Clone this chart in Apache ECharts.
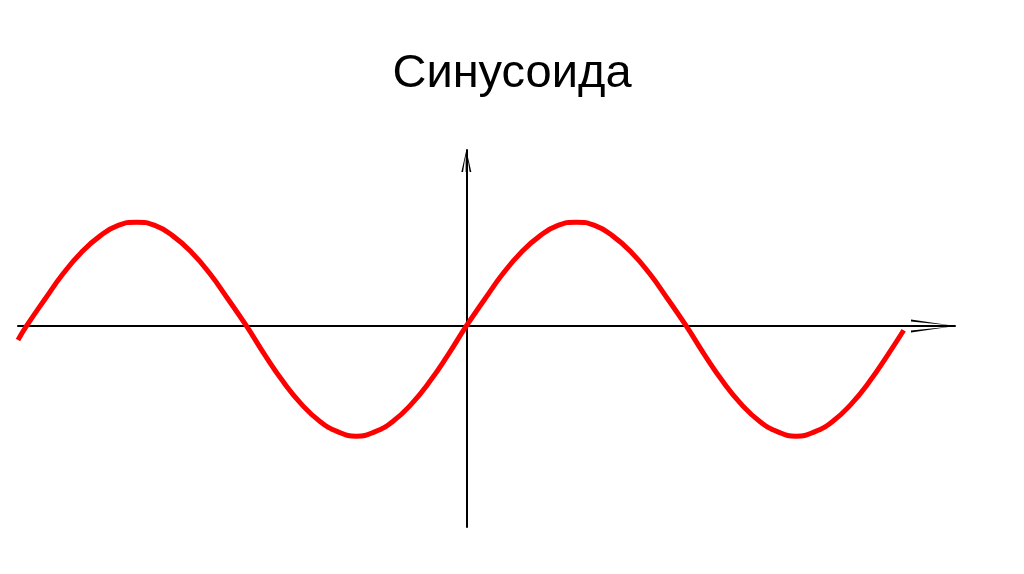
<!DOCTYPE html>
<html>
<head>
<meta charset="utf-8">
<script src="https://cdn.jsdelivr.net/npm/echarts@6/dist/echarts.min.js"></script>
<style>
  html, body { margin: 0; padding: 0; background: #ffffff; }
  #chart { width: 1024px; height: 574px; }
</style>
</head>
<body>
<div id="chart"></div>
<script>
// angle in degrees (1 = amplitude)
const angles = [-367, -360, -345, -330, -315, -300, -285, -270, -255, -240, -225, -210, -195,
  -180, -165, -150, -135, -120, -105, -90, -75, -60, -45, -30, -15,
  0, 15, 30, 45, 60, 75, 90, 105, 120, 135, 150, 165,
  180, 195, 210, 225, 240, 255, 270, 285, 300, 315, 330, 345, 358]
const values = [-0.13, 0, 0.25, 0.49, 0.69, 0.84, 0.94, 0.97, 0.94, 0.84, 0.69, 0.49, 0.25,
  0, -0.27, -0.52, -0.73, -0.89, -0.99, -1.03, -0.99, -0.89, -0.73, -0.52, -0.27,
  0, 0.25, 0.49, 0.69, 0.84, 0.94, 0.97, 0.94, 0.84, 0.69, 0.49, 0.25,
  0, -0.27, -0.52, -0.73, -0.89, -0.99, -1.03, -0.99, -0.89, -0.73, -0.52, -0.27, -0.04]

const chart = echarts.init(document.getElementById('chart'))
// open arrow heads with a stem, pointing up
const xArrow = 'path://M6.5,0 L13,44 L11,44 L7.2,6 L7.2,44 L5.8,44 L5.8,6 L2,44 L0,44 Z'
const yArrow = 'path://M5,0 L10,22 L8.3,22 L5.7,5 L5.7,22 L4.3,22 L4.3,5 L1.7,22 L0,22 Z'

const option = {
  backgroundColor: '#ffffff',
  animation: false,
  title: {
    text: 'Синусоида',
    left: 'center',
    top: 46,
    textStyle: {
      color: '#000000',
      fontFamily: 'Liberation Sans',
      fontWeight: 'normal',
      fontSize: 47
    }
  },
  grid: {
    left: 18,
    right: 69,
    top: 150,
    bottom: 47
  },
  xAxis: {
    type: 'value',
    min: -367,
    max: 400,
    axisLine: {
      onZero: true,
      symbol: ['none', xArrow],
      symbolSize: [13, 44],
      symbolOffset: [0, -22],
      lineStyle: { color: '#000000', width: 2 }
    },
    axisTick: { show: false },
    axisLabel: { show: false },
    splitLine: { show: false }
  },
  yAxis: {
    type: 'value',
    min: -1.879,
    max: 1.645,
    axisLine: {
      show: true,
      onZero: true,
      symbol: ['none', yArrow],
      symbolSize: [10, 22],
      symbolOffset: [0, -11],
      lineStyle: { color: '#000000', width: 2 }
    },
    axisTick: { show: false },
    axisLabel: { show: false },
    splitLine: { show: false }
  },
  series: [
    {
      type: 'line',
      smooth: true,
      showSymbol: false,
      data: angles.map((a, i) => [a, values[i]]),
      lineStyle: { color: '#ff0000', width: 5 },
      z: 1
    }
  ]
}
chart.setOption(option)
</script>
</body>
</html>
